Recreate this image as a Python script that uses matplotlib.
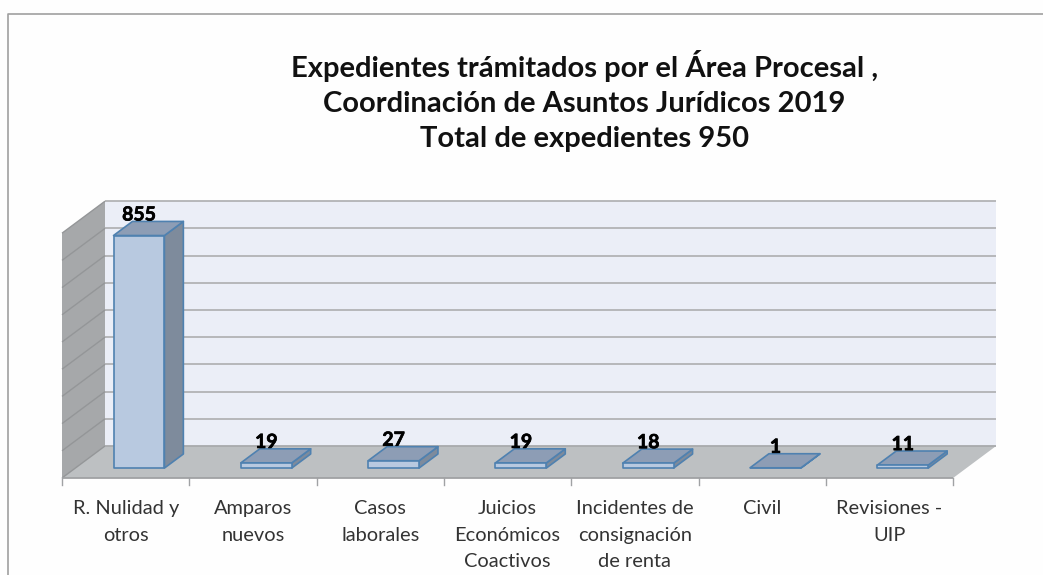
# -*- coding: utf-8 -*-
import matplotlib
matplotlib.use('Agg')
import matplotlib.pyplot as plt
import matplotlib.patheffects as pe

plt.rcParams['font.family'] = ['Lato', 'DejaVu Sans']

categories = ['R. Nulidad y\notros', 'Amparos\nnuevos', 'Casos\nlaborales',
              'Juicios\nEconómicos\nCoactivos', 'Incidentes de\nconsignación\nde renta',
              'Civil', 'Revisiones -\nUIP']
values = [855, 19, 27, 19, 18, 1, 11]
grid_values = [0, 100, 200, 300, 400, 500, 600, 700, 800, 900]
title = 'Expedientes trámitados por el Área Procesal ,\nCoordinación de Asuntos Jurídicos 2019\nTotal de expedientes 950'

# pixel layout of the oblique projection
W, H = 1043, 575
CAT_PX = 127.3
VAL_PX = 0.272
X0_PX = 62
BACK_Y_PX = 446
DEPTH_DX = 43 / CAT_PX
DEPTH_DY = 32 / VAL_PX


# x = category units, v = value, z = depth (0 front, 1 back wall)
def project(x, v, z):
    return x + z * DEPTH_DX, v - (1 - z) * DEPTH_DY


def poly(ax, points, color, edge='none', lw=0, zorder=1):
    pts = [project(*p) for p in points]
    ax.fill([p[0] for p in pts], [p[1] for p in pts], facecolor=color,
            edgecolor=edge, linewidth=lw, joinstyle='round', zorder=zorder)


def line(ax, p1, p2, color, lw, zorder=2):
    a, b = project(*p1), project(*p2)
    ax.plot([a[0], b[0]], [a[1], b[1]], color=color, lw=lw, zorder=zorder,
            solid_capstyle='butt')


fig = plt.figure(figsize=(W / 100, H / 100), dpi=100, facecolor='#fefefe')
ax = fig.add_axes([0, 0, 1, 1])
ax.set_xlim(-X0_PX / CAT_PX, (W - X0_PX) / CAT_PX)
ax.set_ylim((BACK_Y_PX - H) / VAL_PX, BACK_Y_PX / VAL_PX)
ax.axis('off')

n = len(categories)
top = grid_values[-1]

# walls and floor
poly(ax, [(0, 0, 1), (n, 0, 1), (n, top, 1), (0, top, 1)], '#ebeef7')
poly(ax, [(0, 0, 0), (0, 0, 1), (0, top, 1), (0, top, 0)], '#a6a8aa')
poly(ax, [(0, 0, 0), (n, 0, 0), (n, 0, 1), (0, 0, 1)], '#bdc0c2')

for g in grid_values:
    if g > 0:
        line(ax, (0, g, 1), (n, g, 1), '#b2b3b5', 1.3)
    line(ax, (0, g, 0), (0, g, 1), '#949698', 1.0)
line(ax, (0, 0, 1), (n, 0, 1), '#a8aaac', 1.3)
line(ax, (0, 0, 0), (n, 0, 0), '#a0a2a4', 1.3)

# category ticks
for i in range(n + 1):
    x, y = project(i, 0, 0)
    ax.plot([x, x], [y, y - 7 / VAL_PX], color='#a0a2a4', lw=1.0, zorder=2)

# 3d bars
z1, z2 = 0.31, 0.75
for i, v in enumerate(values):
    a, b = i + 0.3, i + 0.7
    edge = '#4f81b0'
    poly(ax, [(b, 0, z1), (b, 0, z2), (b, v, z2), (b, v, z1)], '#7e8b9c', edge, 1.2, 3)
    poly(ax, [(a, v, z1), (b, v, z1), (b, v, z2), (a, v, z2)], '#8d9db5', edge, 1.2, 3)
    poly(ax, [(a, 0, z1), (b, 0, z1), (b, v, z1), (a, v, z1)], '#b8c9e0', edge, 1.2, 3)
    x, y = project(i + 0.5, v, z1)
    ax.text(x, y + 15 / VAL_PX, str(v), ha='center', va='baseline', fontsize=14,
            fontweight='bold', color='black', zorder=4,
            path_effects=[pe.withStroke(linewidth=0.5, foreground='black')])

# category labels
for i, c in enumerate(categories):
    x, y = project(i + 0.5, 0, 0)
    ax.text(x, y - 22 / VAL_PX, c, ha='center', va='top', fontsize=14.4,
            color='#333333', linespacing=1.68)

ax.text(project(n / 2, 0, 0)[0] + 77 / CAT_PX, 345 / VAL_PX, title,
        ha='center', va='center', fontsize=21, fontweight='bold', color='#111111',
        linespacing=1.45)

# outer frame of the chart
fig.add_artist(plt.Line2D([7.5 / W, 7.5 / W, 1], [0, 1 - 13.5 / H, 1 - 13.5 / H],
                          color='#a0a0a0', lw=1.2))

fig.savefig('out.png', dpi=100)
